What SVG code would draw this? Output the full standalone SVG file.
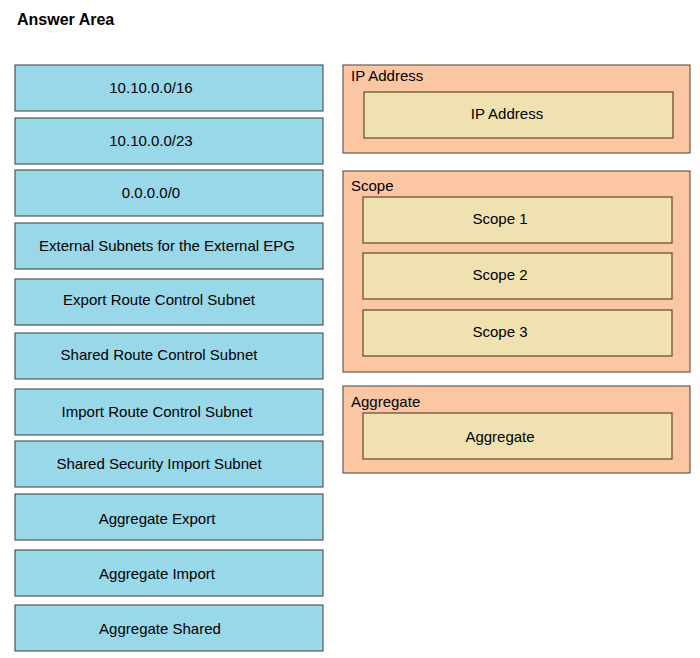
<svg xmlns="http://www.w3.org/2000/svg" width="700" height="658" viewBox="0 0 700 658">
<style>
text{font-family:"Liberation Sans",Arial,sans-serif;font-size:15px;fill:#000}
.l{fill:#99d8e9;stroke:#555;stroke-width:1.2}
.o{fill:#fcc6a2;stroke:#6b5a4e;stroke-width:1.2}
.i{fill:#efe2b0;stroke:#5a4a30;stroke-width:1.2}
.c{text-anchor:middle}
</style>
<rect width="700" height="658" fill="#fff"/>
<text x="17" y="25" style="font-weight:bold;font-size:16px">Answer Area</text>
<g id="n1"><rect class="l" x="15" y="65" width="308" height="46"/><text class="c" x="151" y="93">10.10.0.0/16</text></g>
<g id="n2"><rect class="l" x="15" y="118" width="308" height="46"/><text class="c" x="151" y="146">10.10.0.0/23</text></g>
<g id="n3"><rect class="l" x="15" y="170" width="308" height="46"/><text class="c" x="151" y="198">0.0.0.0/0</text></g>
<g id="n4"><rect class="l" x="15" y="223" width="308" height="46"/><text class="c" x="167" y="251">External Subnets for the External EPG</text></g>
<g id="n5"><rect class="l" x="15" y="279" width="308" height="46"/><text class="c" x="159" y="305">Export Route Control Subnet</text></g>
<g id="n6"><rect class="l" x="15" y="333" width="308" height="46"/><text class="c" x="159" y="360">Shared Route Control Subnet</text></g>
<g id="n7"><rect class="l" x="15" y="389" width="308" height="46"/><text class="c" x="157" y="417">Import Route Control Subnet</text></g>
<g id="n8"><rect class="l" x="15" y="441" width="308" height="46"/><text class="c" x="159" y="469">Shared Security Import Subnet</text></g>
<g id="n9"><rect class="l" x="15" y="494" width="308" height="46"/><text class="c" x="157" y="524">Aggregate Export</text></g>
<g id="n10"><rect class="l" x="15" y="550" width="308" height="46"/><text class="c" x="157" y="579">Aggregate Import</text></g>
<g id="n11"><rect class="l" x="15" y="605" width="308" height="46"/><text class="c" x="160" y="634">Aggregate Shared</text></g>
<g id="ip"><rect class="o" x="343" y="65" width="347" height="88"/><text x="351" y="81">IP Address</text>
<rect class="i" x="364" y="92" width="309" height="46"/><text class="c" x="507" y="119">IP Address</text></g>
<g id="scope"><rect class="o" x="343" y="171" width="347" height="201"/><text x="351" y="191">Scope</text>
<rect class="i" x="363" y="197" width="309" height="46"/><text class="c" x="500" y="224">Scope 1</text>
<rect class="i" x="363" y="253" width="309" height="46"/><text class="c" x="500" y="280">Scope 2</text>
<rect class="i" x="363" y="310" width="309" height="46"/><text class="c" x="500" y="337">Scope 3</text></g>
<g id="agg"><rect class="o" x="343" y="386" width="347" height="87"/><text x="351" y="407">Aggregate</text>
<rect class="i" x="363" y="413" width="309" height="46"/><text class="c" x="500" y="442">Aggregate</text></g>
<g id="connectors"/>
</svg>
